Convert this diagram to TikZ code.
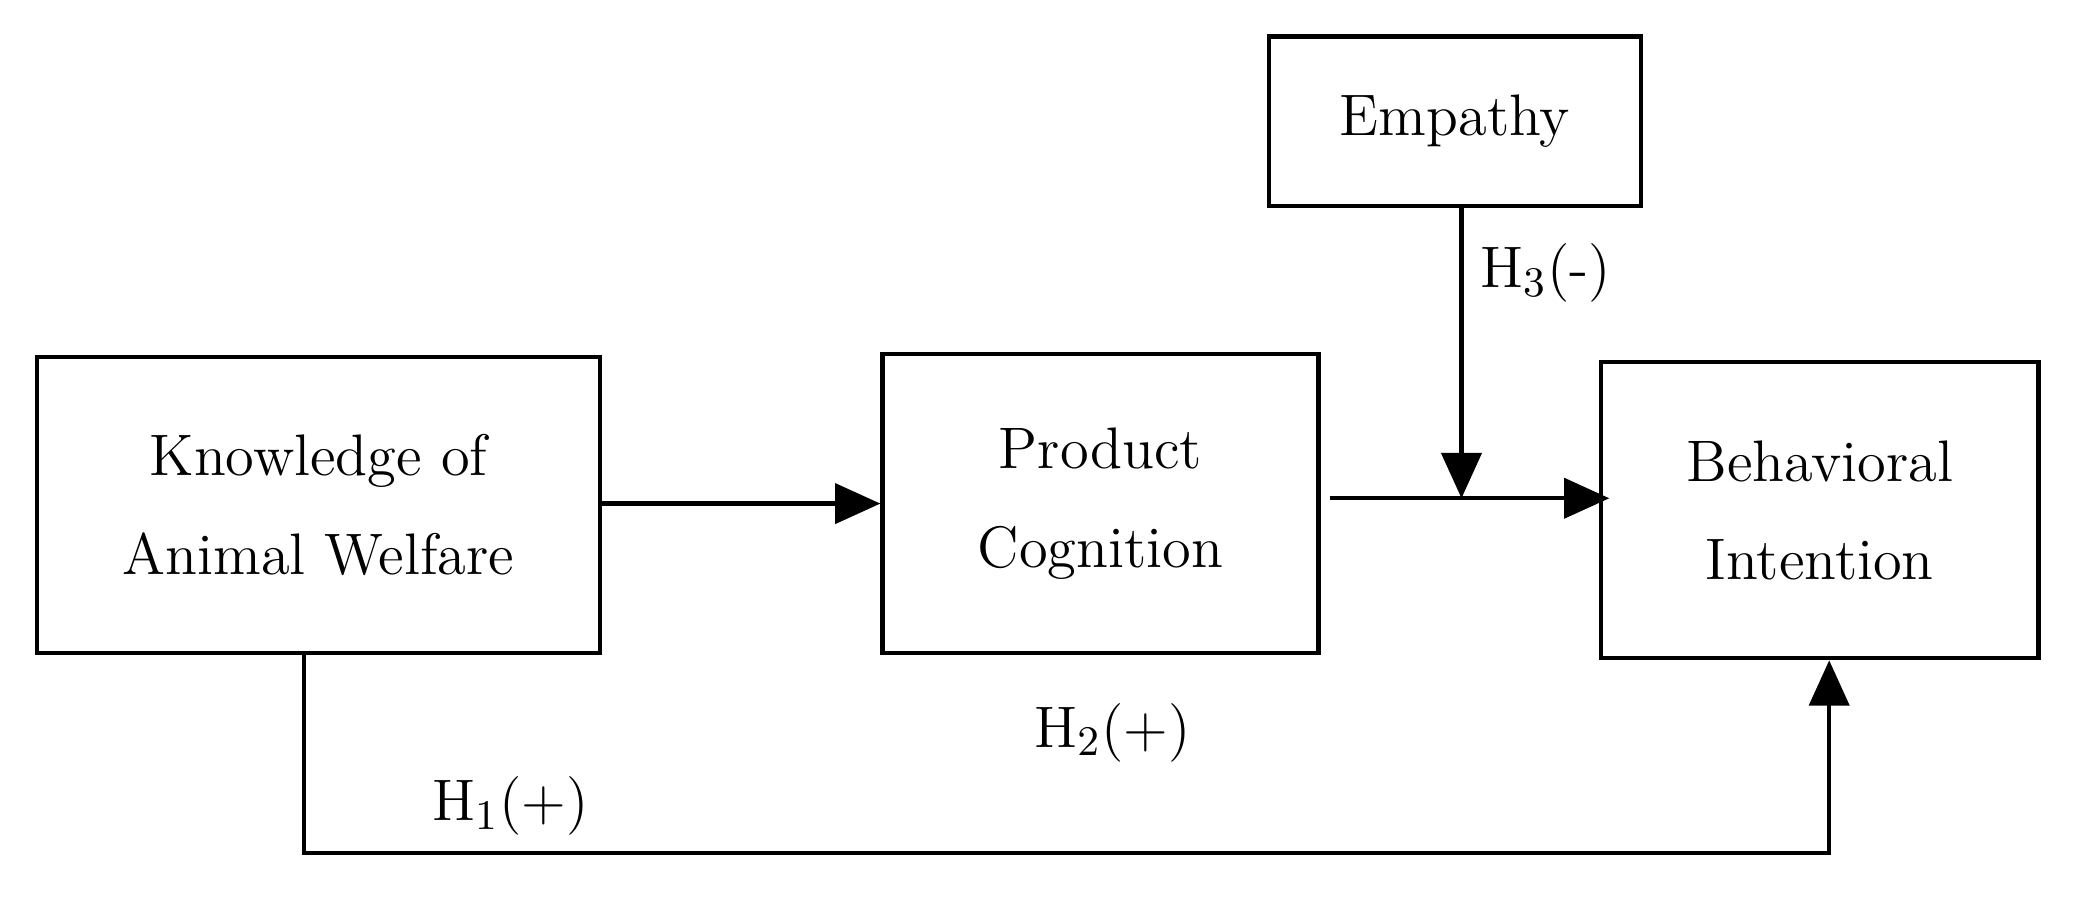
\documentclass[tikz,border=0pt]{standalone}
\usetikzlibrary{arrows.meta}
\begin{document}
\begin{tikzpicture}[x=0.01cm,y=-0.01cm,
	box/.style={draw,line width=0.9pt,inner sep=0pt,align=center,font=\fontsize{12.5}{21}\selectfont},
	link/.style={line width=0.9pt,-{Triangle[width=0.3cm,length=0.34cm]}},
	lbl/.style={font=\fontsize{12.5}{15}\selectfont}]
	\useasboundingbox (0,0) rectangle (1568,673);

	% boxes
	\node[box,minimum width=4.22cm,minimum height=2.22cm] (know) at (239,379) {Knowledge of\\Animal Welfare};
	\node[box,minimum width=3.27cm,minimum height=2.24cm] (prod) at (826,378) {Product\\Cognition};
	\node[box,minimum width=3.28cm,minimum height=2.22cm] (beh) at (1366,383) {Behavioral\\Intention};
	\node[box,minimum width=2.79cm,minimum height=1.27cm] (emp) at (1092,91) {Empathy};

	% links
	\coordinate (mid) at (1097,374);
	\coordinate (c1) at (228,640);
	\coordinate (c2) at (1373,640);
	\draw[link] (452,378) -- (prod.west |- 0,378);
	\draw[link] (998,374) -- (1208,374);
	\draw[link] (emp.south -| mid) -- (mid);
	\draw[link] (know.south -| c1) -- (c1) -- (c2) -- (beh.south -| c2);

	% labels
	\node[lbl] (h3) at (1160,205) {H$_3$(-)};
	\node[lbl] (h2) at (835,550) {H$_2$(+)};
	\node[lbl] (h1) at (383,605) {H$_1$(+)};
\end{tikzpicture}
\end{document}
